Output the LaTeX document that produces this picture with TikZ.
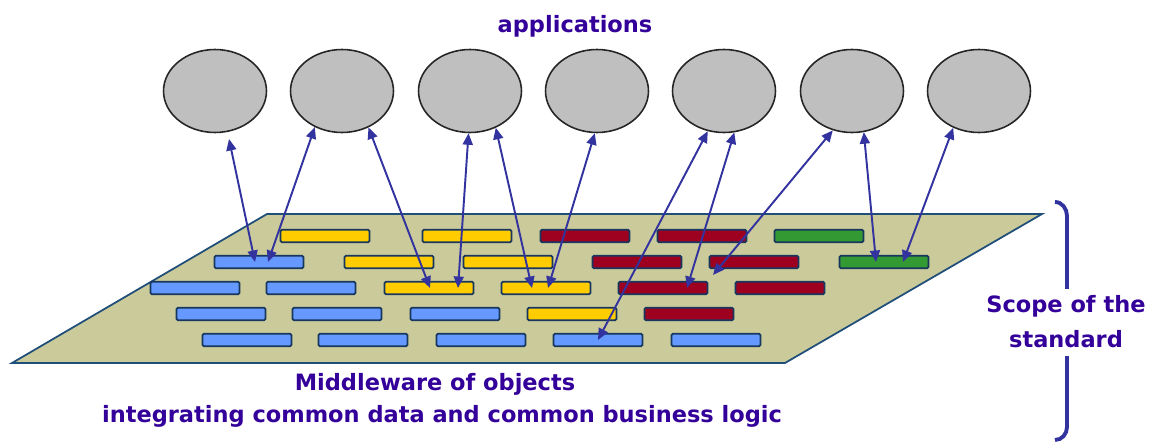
\documentclass[tikz,border=0pt]{standalone}
\usepackage{fontspec}
\setmainfont{DejaVu Sans}
\usetikzlibrary{arrows.meta, calc, shapes.geometric}

\definecolor{appgray}{RGB}{191,191,191}
\definecolor{planecol}{RGB}{202,202,154}
\definecolor{planeline}{RGB}{31,78,121}
\definecolor{barline}{RGB}{23,55,94}
\definecolor{blu}{RGB}{102,153,255}
\definecolor{yel}{RGB}{255,204,0}
\definecolor{crim}{RGB}{158,0,32}
\definecolor{grn}{RGB}{51,153,51}
\definecolor{linkcol}{RGB}{51,51,160}
\definecolor{txtcol}{RGB}{51,0,153}

\begin{document}
\begin{tikzpicture}[x=0.02cm, y=-0.02cm,
    app/.style={ellipse, draw=black!85, fill=appgray, line width=0.9pt,
      minimum width=2.06cm, minimum height=1.66cm, inner sep=0pt},
    bar/.style={draw=barline, line width=1pt, rounded corners=0.8pt,
      minimum width=1.78cm, minimum height=0.25cm, inner sep=0pt},
    link/.style={linkcol, line width=1.1pt,
      {Triangle[length=2.3mm,width=2mm]}-{Triangle[length=2.3mm,width=2mm]}},
    lbl/.style={text=txtcol, font=\bfseries\fontsize{12.8}{16}\selectfont, inner sep=0pt}]
    \useasboundingbox (0,0) rectangle (1153,442);
    % Applications
    \node[lbl, anchor=base] (apps) at (575,33) {applications};
    \foreach \x [count=\i] in {215,342,470,597,724,852,979}
        \node[app] (a\i) at (\x,91) {};
    % Plane of the middleware
    \draw[fill=planecol, draw=planeline, line width=1pt]
        (12,363) -- (785,363) -- (1042,214) -- (267,214) -- cycle;
    % Objects, row by row
    \foreach \x/\c [count=\i] in {325/yel,467/yel,585/crim,702/crim,819/grn}
        \node[bar, fill=\c] (b1\i) at (\x,236) {};
    \foreach \x/\c [count=\i] in {259/blu,389/yel,508/yel,637/crim,754/crim,884/grn}
        \node[bar, fill=\c] (b2\i) at (\x,262) {};
    \foreach \x/\c [count=\i] in {195/blu,311/blu,429/yel,546/yel,663/crim,780/crim}
        \node[bar, fill=\c] (b3\i) at (\x,288) {};
    \foreach \x/\c [count=\i] in {221/blu,337/blu,455/blu,572/yel,689/crim}
        \node[bar, fill=\c] (b4\i) at (\x,314) {};
    \foreach \x/\c [count=\i] in {247/blu,363/blu,481/blu,598/blu,716/blu}
        \node[bar, fill=\c] (b5\i) at (\x,340) {};
    % Arrows between applications and objects
    \coordinate (a1gap) at (229,139);
    \foreach \s/\t/\dx/\dy in {a1gap/b21/-4/0, a2.233/b21/9/0, a2.306/b33/1/0,
        a3.268/b33/29/0, a3.305/b34/-14/0, a4.267/b34/2/0, a5.248/b54/0/0,
        a5.284/b35/24/0, a6.244/b25/-41/13, a6.286/b26/-8/0, a7.235/b26/19/0}
        \draw[link] (\s) -- ($(\t)+(\dx,\dy)$);
    % Middleware labels
    \node[lbl, anchor=base] (mw) at (435,390) {Middleware of objects};
    \node[lbl, anchor=base] (logic) at (442,422)
        {integrating common data and common business logic};
    % Scope brace
    \draw[linkcol, line width=2.2pt]
        (1055,202) to[out=0, in=90] (1067,216) -- (1067,289);
    \draw[linkcol, line width=2.2pt]
        (1067,356) -- (1067,427) to[out=-90, in=0] (1055,440);
    \node[lbl, anchor=base] (scope) at (1066,313) {Scope of the};
    \node[lbl, anchor=base] (std) at (1066,347) {standard};
\end{tikzpicture}
\end{document}
